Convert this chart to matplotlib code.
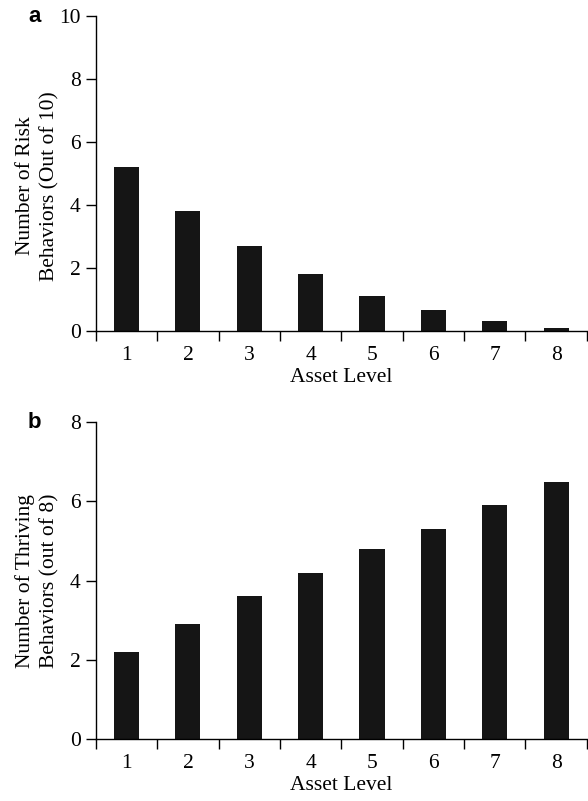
import numpy as np
import matplotlib.pyplot as plt

levels = [1, 2, 3, 4, 5, 6, 7, 8]
risk = [5.2, 3.8, 2.7, 1.8, 1.1, 0.65, 0.3, 0.1]
thriving = [2.2, 2.9, 3.6, 4.2, 4.8, 5.3, 5.9, 6.5]

plt.rcParams['font.family'] = ['Liberation Serif', 'DejaVu Serif']
plt.rcParams['font.size'] = 15.5

fig = plt.figure(figsize=(5.88, 8.01), dpi=100)
ax1 = fig.add_axes([0.163, 0.587, 0.835, 0.393])
ax2 = fig.add_axes([0.163, 0.0774, 0.835, 0.3956])


def style(ax, vals, ymax, ylabel, letter, label_y):
    ax.bar(levels, vals, width=0.41, color='#151515')
    ax.set_xlim(0.5, 8.5)
    ax.set_ylim(0, ymax)
    ax.set_yticks(np.arange(0, ymax + 1, 2))
    ax.set_xticks(levels)
    ax.set_xticks(np.arange(0.5, 8.6, 1), minor=True)
    ax.tick_params(axis='x', which='major', length=0, pad=11)
    ax.tick_params(axis='x', which='minor', length=7, width=1, direction='out')
    ax.tick_params(axis='y', length=7, width=1, direction='out', pad=4)
    for s in ['top', 'right']:
        ax.spines[s].set_visible(False)
    for s in ['left', 'bottom']:
        ax.spines[s].set_linewidth(1)
    ax.set_xlabel('Asset Level', labelpad=2)
    ax.set_ylabel(ylabel, linespacing=1.35)
    ax.yaxis.set_label_coords(-0.075, label_y)
    ax.text(-0.125, 1.0, letter, transform=ax.transAxes, ha='center', va='center',
            fontsize=16, fontweight='bold', family='Liberation Sans')


style(ax1, risk, 10, 'Number of Risk\nBehaviors (Out of 10)', 'a', 0.46)
style(ax2, thriving, 8, 'Number of Thriving\nBehaviors (out of 8)', 'b', 0.5)

fig.savefig('out.png', dpi=100)
